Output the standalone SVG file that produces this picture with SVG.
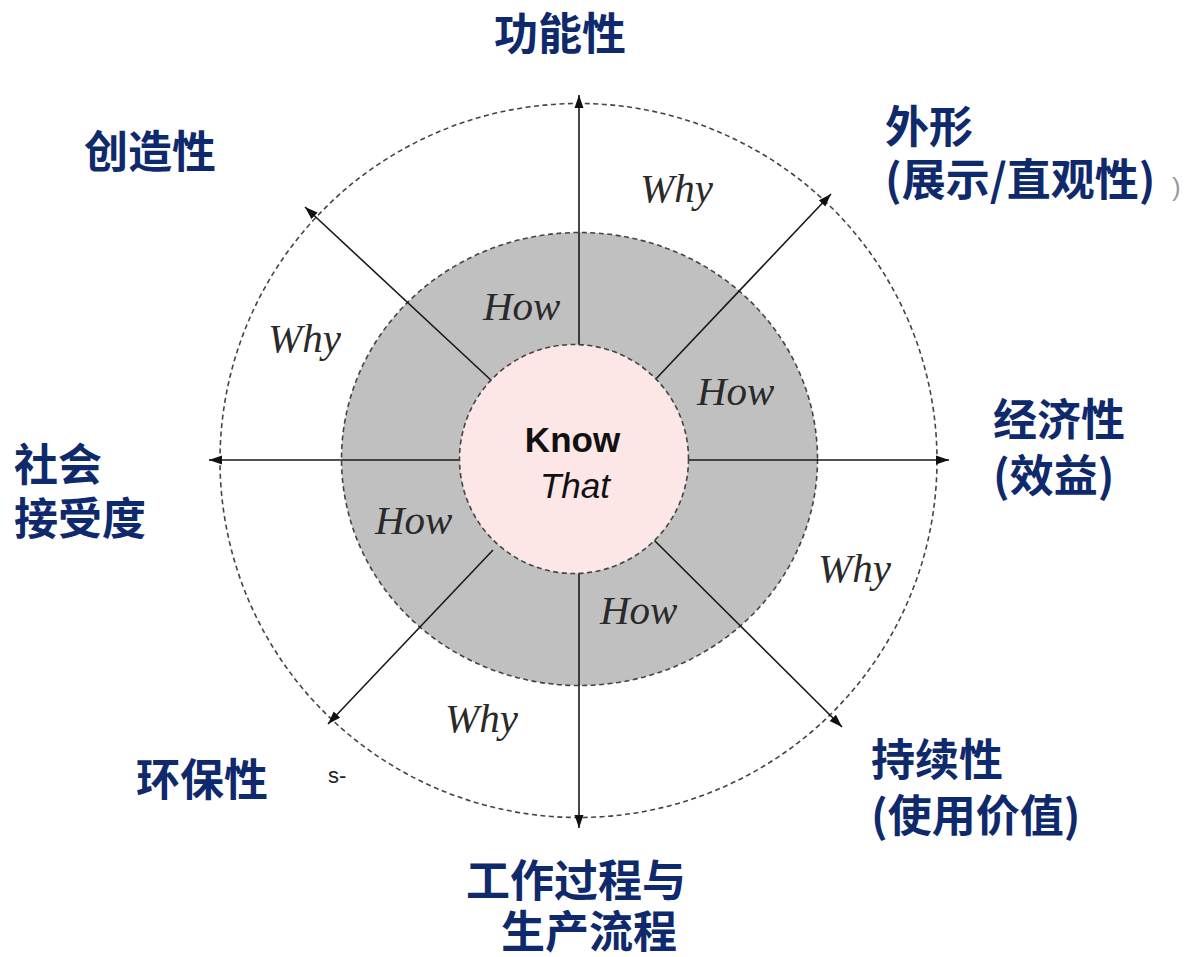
<svg xmlns="http://www.w3.org/2000/svg" width="1188" height="957" viewBox="0 0 1188 957">
<defs>
<marker id="ah" markerUnits="userSpaceOnUse" markerWidth="14" markerHeight="10" refX="13" refY="5" orient="auto">
<path d="M0,0.5 L13,5 L0,9.5 z" fill="#111"/>
</marker>
<style>
.lab{font-family:"Noto Sans CJK SC","Noto Sans",sans-serif;font-size:44px;font-weight:bold;fill:#0f2a6c}
.wh{font-family:"Liberation Serif","DejaVu Serif",serif;font-style:italic;font-size:41px;fill:#2a2a2a}
.ring{stroke:#444;stroke-width:1.6;stroke-dasharray:5,3.5}
.conn{stroke:#1a1a1a;stroke-width:1.6;fill:none}
</style>
</defs>
<rect width="1188" height="957" fill="#fff"/>
<g id="outer-ring">
<ellipse cx="578.5" cy="460.5" rx="358.5" ry="357" fill="none" class="ring"/>
</g>
<g id="how-ring">
<ellipse cx="579.5" cy="459" rx="238" ry="226.5" fill="#c0c0c0" class="ring"/>
</g>
<g id="connectors">
<line class="conn" x1="579" y1="345" x2="579" y2="95" marker-end="url(#ah)"/>
<line class="conn" x1="579" y1="573" x2="579" y2="828" marker-end="url(#ah)"/>
<line class="conn" x1="459" y1="460" x2="209" y2="460" marker-end="url(#ah)"/>
<line class="conn" x1="688" y1="460" x2="949" y2="460" marker-end="url(#ah)"/>
<line class="conn" x1="493" y1="382" x2="305" y2="207" marker-end="url(#ah)"/>
<line class="conn" x1="653" y1="382" x2="831" y2="194" marker-end="url(#ah)"/>
<line class="conn" x1="653" y1="539" x2="842" y2="727" marker-end="url(#ah)"/>
<line class="conn" x1="493" y1="550" x2="328" y2="724" marker-end="url(#ah)"/>
</g>
<g id="know-that">
<circle cx="574" cy="459" r="114.5" fill="#fde6e6" class="ring"/>
<text x="572.5" y="452" text-anchor="middle" font-family="Liberation Sans,Arial,sans-serif" font-weight="bold" font-size="35" fill="#111">Know</text>
<text x="575" y="498" text-anchor="middle" font-family="Liberation Sans,Arial,sans-serif" font-style="italic" font-size="35" fill="#111">That</text>
</g>
<g id="how-labels">
<text class="wh" x="483" y="320">How</text>
<text class="wh" x="697" y="405">How</text>
<text class="wh" x="375" y="534">How</text>
<text class="wh" x="600" y="624">How</text>
</g>
<g id="why-labels">
<text class="wh" x="640" y="202">Why</text>
<text class="wh" x="268" y="352">Why</text>
<text class="wh" x="818" y="582">Why</text>
<text class="wh" x="445" y="732">Why</text>
</g>
<g id="functionality"><text class="lab" x="494" y="50">功能性</text></g>
<g id="creativity"><text class="lab" x="84" y="168">创造性</text></g>
<g id="appearance"><text class="lab" x="885" y="143">外形</text><text class="lab" x="885" y="196">(展示/直观性)</text><text x="1172" y="196" font-family="Liberation Sans,sans-serif" font-size="26" fill="#999">)</text></g>
<g id="economy"><text class="lab" x="993" y="436">经济性</text><text class="lab" x="993" y="492">(效益)</text></g>
<g id="social"><text class="lab" x="14" y="481">社会</text><text class="lab" x="14" y="535">接受度</text></g>
<g id="environment"><text class="lab" x="136" y="796">环保性</text><text x="328" y="783" font-family="Liberation Sans,sans-serif" font-size="22" fill="#222">s-</text></g>
<g id="sustainability"><text class="lab" x="871" y="776">持续性</text><text class="lab" x="871" y="832">(使用价值)</text></g>
<g id="process"><text class="lab" x="466" y="897">工作过程与</text><text class="lab" x="501" y="948">生产流程</text></g>
</svg>
